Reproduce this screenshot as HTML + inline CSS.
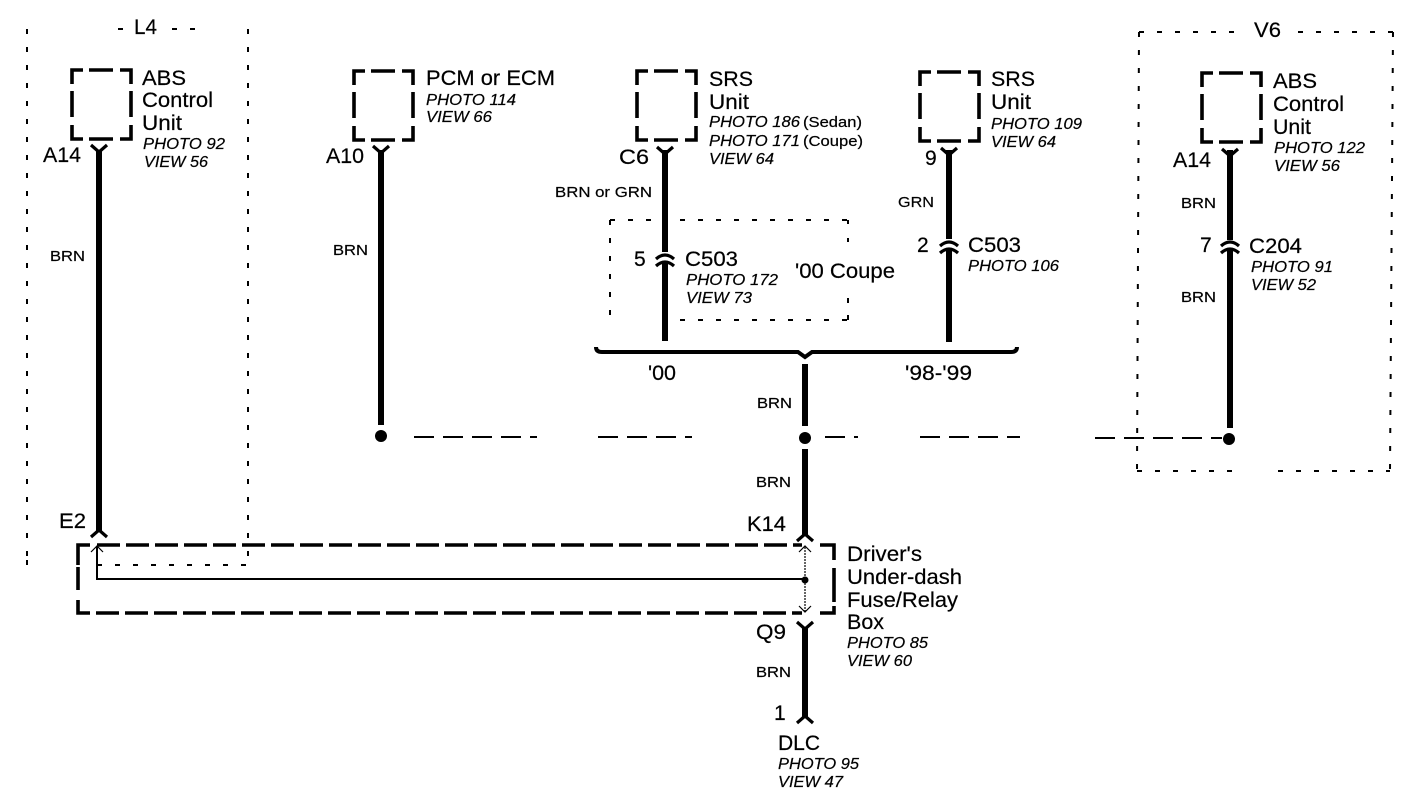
<!DOCTYPE html>
<html><head><meta charset="utf-8"><style>
html,body{margin:0;padding:0;background:#fff}
svg{display:block}
text{font-family:"Liberation Sans",sans-serif;fill:#000;font-size:21px;stroke:#000;stroke-width:.2px}
.i{font-style:italic;font-size:15.5px}
.s{font-size:14.5px}
.w{stroke:#000;stroke-width:6;fill:none}
.f{stroke:#000;stroke-width:3.2;fill:none}
.b{stroke:#000;stroke-width:3.6;fill:none}
.d{stroke:#000;stroke-width:2;fill:none;stroke-dasharray:5 13}
.h{stroke:#000;stroke-width:2;fill:none;stroke-dasharray:20 9}
</style></head><body>
<svg width="1408" height="800" viewBox="0 0 1408 800" xmlns="http://www.w3.org/2000/svg">
<defs>
<path id="box" class="b" d="M0 14V0H11M17 0H41M48 0H59V14M59 21V47M59 55V69H48M41 69H17M11 69H0V55M0 47V21"/>
</defs>
<!-- option boxes -->
<path class="d" d="M27 29V565"/><path d="M26 560H28V565H26Z"/><path class="d" d="M248 29V565"/>
<path class="d" d="M118 29H128M172 29H200"/><path class="d" d="M97 565H248"/>
<path class="d" d="M1139 32H1240M1298 32H1393"/><path class="d" d="M1139 32L1137 471"/><path class="d" d="M1393 32L1390 471"/>
<path class="d" d="M1137 471H1232M1278 471H1390"/>
<path class="d" d="M610 220V320"/><path stroke="#000" stroke-width="2" d="M848 220V224M848 238V242M848 298V303M848 315V320"/><path class="d" d="M610 220H662M680 220H848"/><path class="d" d="M680 320H848"/>
<!-- component boxes -->
<use href="#box" x="72" y="70"/>
<use href="#box" x="354" y="71"/>
<use href="#box" x="637" y="71"/>
<use href="#box" x="920" y="72"/>
<use href="#box" x="1202" y="73"/>
<path class="b" d="M78 565V545H90M820 545H834V560M834 568V602M834 606V613H820M90 613H78V600M78 590V567"/>
<path class="b" style="stroke-dasharray:23 6" d="M97 545H802M96 613H802"/>
<!-- wires -->
<path class="w" d="M99 150V532"/>
<path class="w" d="M381 150V425"/>
<path class="w" d="M665 150V252M665 263V341"/>
<path class="w" d="M949 150V239M949 250V342"/>
<path class="w" d="M1230 150V240M1230 250V428"/>
<path class="w" d="M805 364V426M805 449V536"/>
<path class="w" d="M805 627V718"/>
<!-- forks -->
<path class="f" d="M91 145L99 152L107 145M91 537L99 530L107 537"/>
<path class="f" d="M373 146L381 153L389 146"/>
<path class="f" d="M657 147L665 154L673 147"/>
<path class="f" d="M941 148L949 155L957 148"/>
<path class="f" d="M1222 149L1230 156L1238 149"/>
<path class="f" d="M797 541L805 534L813 541"/>
<path class="f" d="M797 622L805 629L813 622"/>
<path class="f" d="M797 723L805 716L813 723"/>
<!-- inline connectors -->
<path class="f" d="M656 259Q665 251 674 259M656 266Q665 258 674 266"/>
<path class="f" d="M940 246Q949 238 958 246M940 253Q949 245 958 253"/>
<path class="f" d="M1221 246Q1230 238 1239 246M1221 253Q1230 245 1239 253"/>
<!-- brace -->
<path d="M596 347Q596 352 602 352H798L805 357L812 352H1011Q1017 352 1017 347" stroke="#000" stroke-width="4" fill="none"/>
<!-- junctions -->
<circle cx="381" cy="436" r="6"/><circle cx="805" cy="438" r="6"/><circle cx="1229" cy="439" r="6"/>
<path class="h" d="M414 437H537M598 437H692M825 437H858M920 437H1020M1095 438H1222"/>
<!-- internal box wiring -->
<path d="M97 546V579H805" stroke="#000" stroke-width="2" fill="none"/>
<path d="M91 552L97 546L103 552M799 552L805 546L811 552M799 606L805 612L811 606" stroke="#000" stroke-width="1.2" fill="none"/>
<path d="M805 547V612" stroke="#000" stroke-width="1.2" stroke-dasharray="2 1" fill="none"/>
<circle cx="805" cy="580" r="3.5"/>
<!-- labels -->
<text x="134" y="34" textLength="23" lengthAdjust="spacingAndGlyphs">L4</text>
<text x="1254" y="37" textLength="27" lengthAdjust="spacingAndGlyphs">V6</text>
<text x="142" y="85" textLength="44" lengthAdjust="spacingAndGlyphs">ABS</text>
<text x="142" y="107" textLength="71" lengthAdjust="spacingAndGlyphs">Control</text>
<text x="142" y="130" textLength="40" lengthAdjust="spacingAndGlyphs">Unit</text>
<text class="i" x="143" y="149" textLength="82" lengthAdjust="spacingAndGlyphs">PHOTO 92</text>
<text class="i" x="144" y="167" textLength="64" lengthAdjust="spacingAndGlyphs">VIEW 56</text>
<text x="43" y="162" textLength="38" lengthAdjust="spacingAndGlyphs">A14</text>
<text class="s" x="50" y="261" textLength="35" lengthAdjust="spacingAndGlyphs">BRN</text>
<text x="59" y="528" textLength="27" lengthAdjust="spacingAndGlyphs">E2</text>

<text x="426" y="85" textLength="129" lengthAdjust="spacingAndGlyphs">PCM or ECM</text>
<text class="i" x="426" y="105" textLength="90" lengthAdjust="spacingAndGlyphs">PHOTO 114</text>
<text class="i" x="426" y="122" textLength="66" lengthAdjust="spacingAndGlyphs">VIEW 66</text>
<text x="326" y="163" textLength="38" lengthAdjust="spacingAndGlyphs">A10</text>
<text class="s" x="333" y="255" textLength="35" lengthAdjust="spacingAndGlyphs">BRN</text>

<text x="709" y="86" textLength="44" lengthAdjust="spacingAndGlyphs">SRS</text>
<text x="709" y="109" textLength="40" lengthAdjust="spacingAndGlyphs">Unit</text>
<text class="i" x="709" y="127" textLength="91" lengthAdjust="spacingAndGlyphs">PHOTO 186</text>
<text class="s" x="803" y="127" textLength="59" lengthAdjust="spacingAndGlyphs">(Sedan)</text>
<text class="i" x="709" y="146" textLength="91" lengthAdjust="spacingAndGlyphs">PHOTO 171</text>
<text class="s" x="803" y="146" textLength="60" lengthAdjust="spacingAndGlyphs">(Coupe)</text>
<text class="i" x="709" y="164" textLength="65" lengthAdjust="spacingAndGlyphs">VIEW 64</text>
<text x="619" y="164" textLength="30" lengthAdjust="spacingAndGlyphs">C6</text>
<text class="s" x="555" y="197" textLength="97" lengthAdjust="spacingAndGlyphs">BRN or GRN</text>
<text x="634" y="266">5</text>
<text x="685" y="266" textLength="53" lengthAdjust="spacingAndGlyphs">C503</text>
<text class="i" x="686" y="285" textLength="92" lengthAdjust="spacingAndGlyphs">PHOTO 172</text>
<text class="i" x="686" y="303" textLength="66" lengthAdjust="spacingAndGlyphs">VIEW 73</text>
<text x="795" y="278" textLength="100" lengthAdjust="spacingAndGlyphs">'00 Coupe</text>
<text x="648" y="380" textLength="28" lengthAdjust="spacingAndGlyphs">'00</text>
<text x="905" y="380" textLength="67" lengthAdjust="spacingAndGlyphs">'98-'99</text>

<text x="991" y="86" textLength="44" lengthAdjust="spacingAndGlyphs">SRS</text>
<text x="991" y="109" textLength="40" lengthAdjust="spacingAndGlyphs">Unit</text>
<text class="i" x="991" y="129" textLength="91" lengthAdjust="spacingAndGlyphs">PHOTO 109</text>
<text class="i" x="991" y="147" textLength="65" lengthAdjust="spacingAndGlyphs">VIEW 64</text>
<text x="925" y="165">9</text>
<text class="s" x="898" y="207" textLength="36" lengthAdjust="spacingAndGlyphs">GRN</text>
<text x="917" y="252">2</text>
<text x="968" y="252" textLength="53" lengthAdjust="spacingAndGlyphs">C503</text>
<text class="i" x="968" y="271" textLength="91" lengthAdjust="spacingAndGlyphs">PHOTO 106</text>

<text x="1273" y="88" textLength="44" lengthAdjust="spacingAndGlyphs">ABS</text>
<text x="1273" y="111" textLength="71" lengthAdjust="spacingAndGlyphs">Control</text>
<text x="1273" y="134" textLength="38" lengthAdjust="spacingAndGlyphs">Unit</text>
<text class="i" x="1274" y="153" textLength="91" lengthAdjust="spacingAndGlyphs">PHOTO 122</text>
<text class="i" x="1274" y="171" textLength="66" lengthAdjust="spacingAndGlyphs">VIEW 56</text>
<text x="1173" y="167" textLength="38" lengthAdjust="spacingAndGlyphs">A14</text>
<text class="s" x="1181" y="208" textLength="35" lengthAdjust="spacingAndGlyphs">BRN</text>
<text x="1200" y="252">7</text>
<text x="1249" y="253" textLength="53" lengthAdjust="spacingAndGlyphs">C204</text>
<text class="i" x="1251" y="272" textLength="82" lengthAdjust="spacingAndGlyphs">PHOTO 91</text>
<text class="i" x="1251" y="290" textLength="65" lengthAdjust="spacingAndGlyphs">VIEW 52</text>
<text class="s" x="1181" y="302" textLength="35" lengthAdjust="spacingAndGlyphs">BRN</text>

<text class="s" x="757" y="408" textLength="35" lengthAdjust="spacingAndGlyphs">BRN</text>
<text class="s" x="756" y="487" textLength="35" lengthAdjust="spacingAndGlyphs">BRN</text>
<text x="747" y="531" textLength="39" lengthAdjust="spacingAndGlyphs">K14</text>
<text x="756" y="639" textLength="30" lengthAdjust="spacingAndGlyphs">Q9</text>
<text class="s" x="756" y="677" textLength="35" lengthAdjust="spacingAndGlyphs">BRN</text>
<text x="774" y="720">1</text>
<text x="847" y="561" textLength="75" lengthAdjust="spacingAndGlyphs">Driver's</text>
<text x="847" y="584" textLength="115" lengthAdjust="spacingAndGlyphs">Under-dash</text>
<text x="847" y="607" textLength="111" lengthAdjust="spacingAndGlyphs">Fuse/Relay</text>
<text x="847" y="629" textLength="37" lengthAdjust="spacingAndGlyphs">Box</text>
<text class="i" x="847" y="648" textLength="81" lengthAdjust="spacingAndGlyphs">PHOTO 85</text>
<text class="i" x="847" y="666" textLength="65" lengthAdjust="spacingAndGlyphs">VIEW 60</text>
<text x="778" y="750" textLength="42" lengthAdjust="spacingAndGlyphs">DLC</text>
<text class="i" x="778" y="769" textLength="81" lengthAdjust="spacingAndGlyphs">PHOTO 95</text>
<text class="i" x="778" y="787" textLength="65" lengthAdjust="spacingAndGlyphs">VIEW 47</text>
</svg>
</body></html>
